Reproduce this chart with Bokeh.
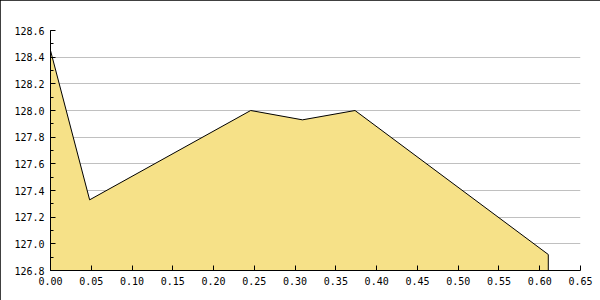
from bokeh.plotting import figure
from bokeh.models import Range1d, SingleIntervalTicker, NumeralTickFormatter
from bokeh.embed import file_html
from bokeh.resources import INLINE

x_vals = [0.0, 0.048, 0.2455, 0.309, 0.3735, 0.6105]
y_vals = [128.45, 127.33, 128.0, 127.93, 128.0, 126.92]

x_start, x_end = 0.0, 0.65
y_start, y_end = 126.8, 128.6

p = figure(width=600, height=300, output_backend="svg", toolbar_location=None,
           x_range=Range1d(x_start, x_end), y_range=Range1d(y_start, y_end),
           min_border_left=50, min_border_right=20, min_border_top=30, min_border_bottom=30)
p.outline_line_color = None
p.background_fill_color = "white"
p.border_fill_color = "white"
p.styles = {"outline": "1px solid black", "outline-offset": "-1px"}

p.varea(x=x_vals, y1=[y_start] * len(x_vals), y2=y_vals, fill_color="#F6E188", fill_alpha=1.0)
p.line(x=x_vals + [x_vals[-1]], y=y_vals + [y_start], line_color="black", line_width=1)

p.xaxis.ticker = SingleIntervalTicker(interval=0.05, num_minor_ticks=0)
p.yaxis.ticker = SingleIntervalTicker(interval=0.2, num_minor_ticks=2)
p.xaxis.formatter = NumeralTickFormatter(format="0.00")
p.yaxis.formatter = NumeralTickFormatter(format="0.0")

for ax in (p.xaxis, p.yaxis):
    ax.axis_line_color = "black"
    ax.major_tick_line_color = "black"
    ax.minor_tick_line_color = "black"
    ax.major_tick_in = 5
    ax.major_tick_out = 0
    ax.minor_tick_in = 3
    ax.minor_tick_out = 0
    ax.major_label_text_font = "DejaVu Sans Mono"
    ax.major_label_text_font_size = "10px"
    ax.major_label_text_color = "black"
    ax.major_label_standoff = 6

p.xgrid.grid_line_color = None
p.ygrid.grid_line_color = "#C0C0C0"
p.ygrid.grid_line_width = 1

open("out.html", "w").write(file_html(p, INLINE))
